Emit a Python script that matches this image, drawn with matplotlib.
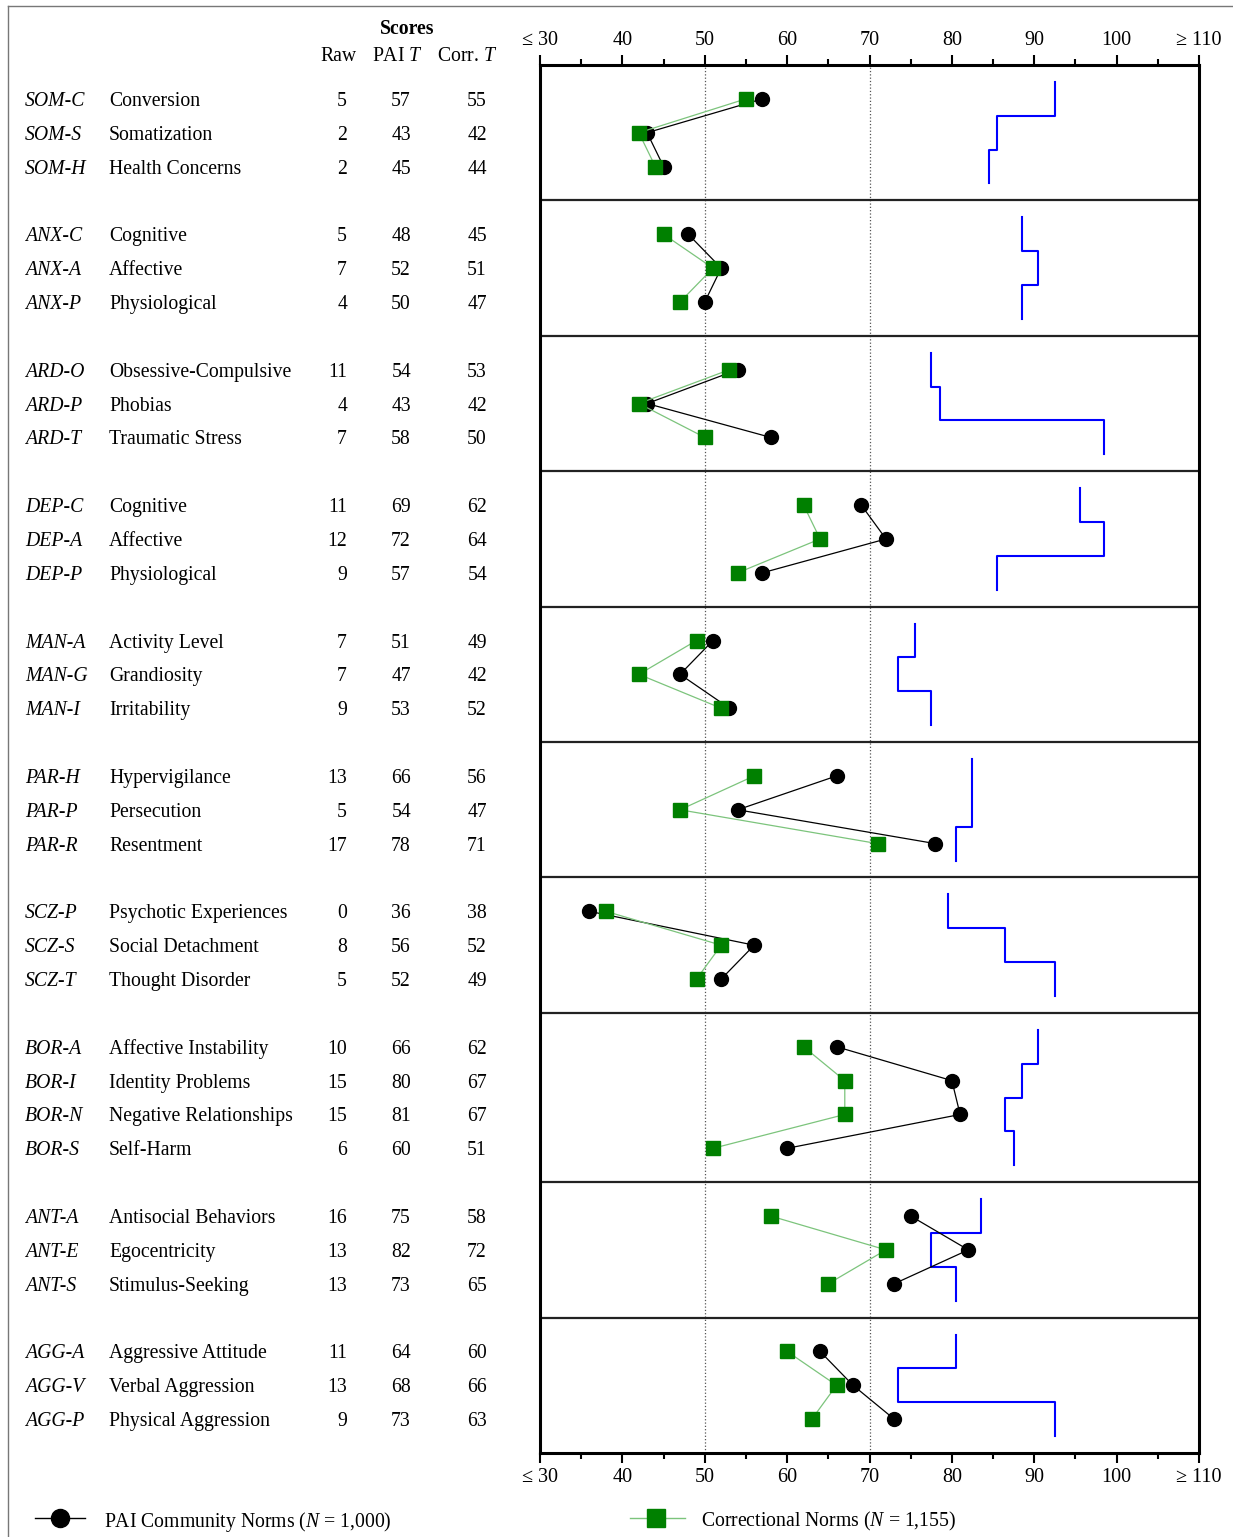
import matplotlib.pyplot as plt
import matplotlib.transforms as mtransforms
from matplotlib.lines import Line2D

plt.rcParams['font.family'] = ['Liberation Serif', 'DejaVu Serif']
plt.rcParams['mathtext.fontset'] = 'custom'
plt.rcParams['mathtext.rm'] = 'Liberation Serif'
plt.rcParams['mathtext.it'] = 'Liberation Serif:italic'

# scale codes, names and scores
codes = ["SOM-C", "SOM-S", "SOM-H", "ANX-C", "ANX-A", "ANX-P", "ARD-O", "ARD-P", "ARD-T",
         "DEP-C", "DEP-A", "DEP-P", "MAN-A", "MAN-G", "MAN-I", "PAR-H", "PAR-P", "PAR-R",
         "SCZ-P", "SCZ-S", "SCZ-T", "BOR-A", "BOR-I", "BOR-N", "BOR-S",
         "ANT-A", "ANT-E", "ANT-S", "AGG-A", "AGG-V", "AGG-P"]
names = ["Conversion", "Somatization", "Health Concerns",
         "Cognitive", "Affective", "Physiological",
         "Obsessive-Compulsive", "Phobias", "Traumatic Stress",
         "Cognitive", "Affective", "Physiological",
         "Activity Level", "Grandiosity", "Irritability",
         "Hypervigilance", "Persecution", "Resentment",
         "Psychotic Experiences", "Social Detachment", "Thought Disorder",
         "Affective Instability", "Identity Problems", "Negative Relationships", "Self-Harm",
         "Antisocial Behaviors", "Egocentricity", "Stimulus-Seeking",
         "Aggressive Attitude", "Verbal Aggression", "Physical Aggression"]
raw = [5, 2, 2, 5, 7, 4, 11, 4, 7, 11, 12, 9, 7, 7, 9, 13, 5, 17, 0, 8, 5,
       10, 15, 15, 6, 16, 13, 13, 11, 13, 9]
pai_t = [57, 43, 45, 48, 52, 50, 54, 43, 58, 69, 72, 57, 51, 47, 53, 66, 54, 78,
         36, 56, 52, 66, 80, 81, 60, 75, 82, 73, 64, 68, 73]
corr_t = [55, 42, 44, 45, 51, 47, 53, 42, 50, 62, 64, 54, 49, 42, 52, 56, 47, 71,
          38, 52, 49, 62, 67, 67, 51, 58, 72, 65, 60, 66, 63]
# blue step profile
skyline = [92.5, 85.5, 84.5, 88.5, 90.5, 88.5, 77.5, 78.5, 98.5,
           95.5, 98.5, 85.5, 75.5, 73.5, 77.5, 82.5, 82.5, 80.5,
           79.5, 86.5, 92.5, 90.5, 88.5, 86.5, 87.5,
           83.5, 77.5, 80.5, 80.5, 73.5, 92.5]
group_sizes = [3, 3, 3, 3, 3, 3, 3, 4, 3, 3]

W, H = 1233, 1537
fig = plt.figure(figsize=(W / 100, H / 100), dpi=100)
ax = fig.add_axes([540 / W, 1 - 1453 / H, 659 / W, (1453 - 65) / H])

# row positions
rows = []
seps = []
y = 0
for n in group_sizes:
    rows.append([y + k for k in range(1, n + 1)])
    y += n + 1
    seps.append(y)
total = y

ax.set_xlim(30, 110)
ax.set_ylim(total, 0)

ax.axvline(50, color='#555555', lw=0.9, ls=':')
ax.axvline(70, color='#555555', lw=0.9, ls=':')
for s in seps[:-1]:
    ax.axhline(s, color='#222222', lw=1.6)

i = 0
for g, n in enumerate(group_sizes):
    ys = rows[g]
    p = pai_t[i:i + n]
    c = corr_t[i:i + n]
    sk = skyline[i:i + n]
    bx, by = [], []
    for v, yy in zip(sk, ys):
        bx += [v, v]
        by += [yy - 0.5, yy + 0.5]
    ax.plot(bx, by, color='#0000ff', lw=1.5)
    ax.plot(p, ys, color='black', lw=0.9, marker='o', ms=10, zorder=3)
    ax.plot(c, ys, color='#7cc47c', lw=0.9, marker='s', ms=10,
            mfc='#008000', mec='#008000', zorder=4)
    i += n

for sp in ax.spines.values():
    sp.set_linewidth(2.2)

ax.set_xticks(range(30, 111, 10))
ax.set_xticks(range(35, 110, 10), minor=True)
ax.set_xticklabels(["≤ 30", "40", "50", "60", "70", "80", "90", "100", "≥ 110"])
ax.set_yticks([])
ax.tick_params(axis='x', which='both', top=True, labeltop=True, direction='out',
               labelsize=14.5, width=1.5)
ax.tick_params(axis='x', which='major', length=7, pad=4)
ax.tick_params(axis='x', which='minor', length=4)

# table on the left
tr = mtransforms.blended_transform_factory(fig.transFigure, ax.transData)
fs = 14.2
i = 0
for g, n in enumerate(group_sizes):
    for yy in rows[g]:
        ax.text(25 / W, yy, codes[i], transform=tr, fontsize=fs, fontstyle='italic',
                va='center_baseline', ha='left', clip_on=False)
        ax.text(109 / W, yy, names[i], transform=tr, fontsize=fs,
                va='center_baseline', ha='left', clip_on=False)
        ax.text(347 / W, yy, str(raw[i]), transform=tr, fontsize=fs,
                va='center_baseline', ha='right', clip_on=False)
        ax.text(411 / W, yy, str(pai_t[i]), transform=tr, fontsize=fs,
                va='center_baseline', ha='right', clip_on=False)
        ax.text(487 / W, yy, str(corr_t[i]), transform=tr, fontsize=fs,
                va='center_baseline', ha='right', clip_on=False)
        i += 1

fig.text(407 / W, 1 - 27 / H, "Scores", fontsize=fs, fontweight='bold', ha='center', va='center_baseline')
fig.text(338 / W, 1 - 54 / H, "Raw", fontsize=fs, ha='center', va='center_baseline')
fig.text(397 / W, 1 - 54 / H, "PAI $\\mathit{T}$", fontsize=fs, ha='center', va='center_baseline')
fig.text(467 / W, 1 - 54 / H, "Corr. $\\mathit{T}$", fontsize=fs, ha='center', va='center_baseline')

# legend
ly = 1 - 1518 / H
fig.add_artist(Line2D([35 / W, 85 / W], [ly, ly], color='black', lw=1))
fig.add_artist(Line2D([60 / W], [ly], marker='o', ms=13, color='black'))
fig.text(104 / W, ly, "PAI Community Norms ($\\mathit{N}$ = 1,000)", fontsize=fs, va='center_baseline')
fig.add_artist(Line2D([630 / W, 685 / W], [ly, ly], color='#7cc47c', lw=1))
fig.add_artist(Line2D([656 / W], [ly], marker='s', ms=13, color='#008000'))
fig.text(701 / W, ly, "Correctional Norms ($\\mathit{N}$ = 1,155)", fontsize=fs, va='center_baseline')

# frame lines
fig.add_artist(Line2D([8 / W, 1], [1 - 6 / H, 1 - 6 / H], color='#777777', lw=1))
fig.add_artist(Line2D([8 / W, 8 / W], [0, 1 - 6 / H], color='#777777', lw=1))

fig.savefig("out.png", dpi=100)
